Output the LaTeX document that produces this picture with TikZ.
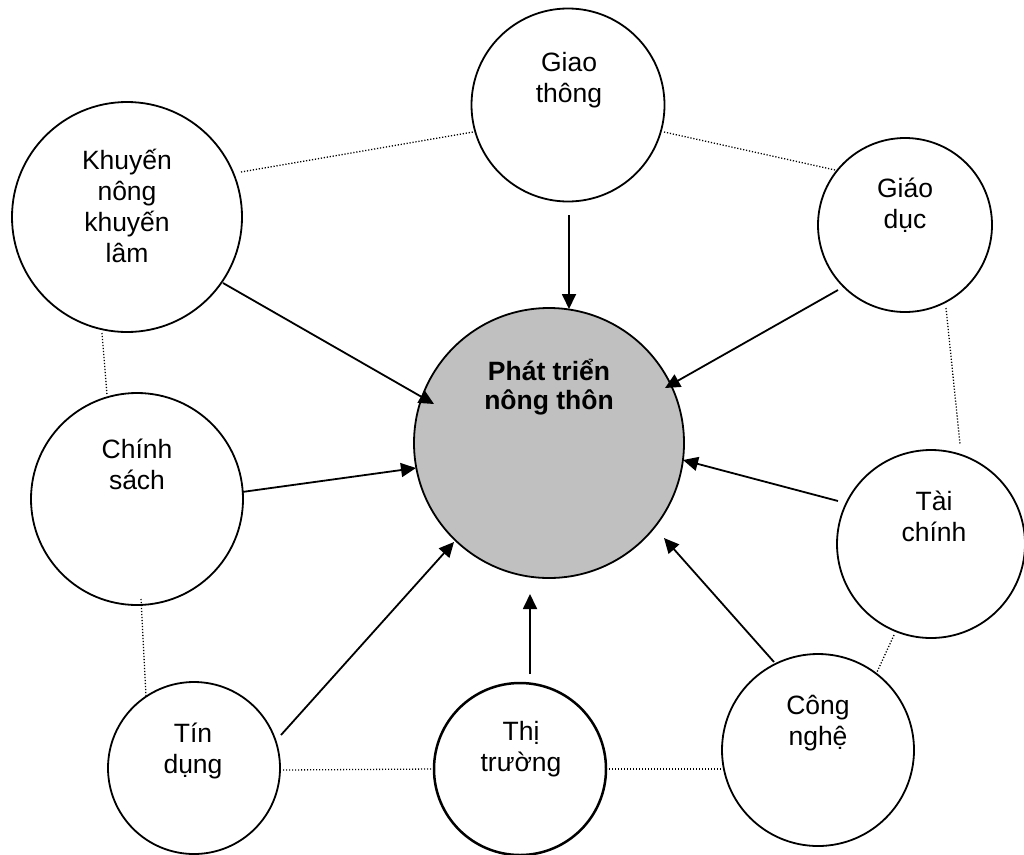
\documentclass[tikz,border=0pt]{standalone}
\usepackage{fontspec}
\setmainfont{Liberation Sans}
\usetikzlibrary{arrows.meta}
\definecolor{hubgray}{RGB}{192,192,192}
\begin{document}
\begin{tikzpicture}[x=1pt,y=-1pt,
  circ/.style={circle,draw,line width=1.8pt,inner sep=0pt,minimum size=#1},
  txt/.style={align=center,font=\fontsize{26.5}{31}\selectfont,inner sep=0pt},
  arr/.style={line width=1.8pt,-{Triangle[length=15pt,width=14pt]}},
  dotln/.style={line width=1.3pt,dash pattern=on 1.2pt off 1.8pt}]
\useasboundingbox (0,0) rectangle (1024,854);
% circles
\node[circ=270pt,fill=hubgray] (hub) at (549,443) {};
\node[circ=193pt] (giao) at (568,105) {};
\node[circ=230pt] (khuyen) at (127,217) {};
\node[circ=174pt] (giaoduc) at (905,225) {};
\node[circ=212pt] (chinh) at (137,499) {};
\node[circ=188pt] (tai) at (931,544) {};
\node[circ=172pt] (tin) at (194,768) {};
\node[circ=172pt,line width=2.5pt] (thi) at (520,769) {};
\node[circ=192pt] (cong) at (818,750) {};
% texts
\node[txt,font=\fontsize{26.5}{29}\selectfont\bfseries] (hubt) at (549,387) {Phát triển\\nông thôn};
\node[txt] (giaot) at (569,80) {Giao\\thông};
\node[txt] (khuyent) at (127,206) {Khuyến\\nông\\khuyến\\lâm};
\node[txt] (giaoduct) at (905,205.5) {Giáo\\dục};
\node[txt] (chinht) at (137,464.5) {Chính\\sách};
\node[txt] (tait) at (934,516.5) {Tài\\chính};
\node[txt] (tint) at (193,750.5) {Tín\\dụng};
\node[txt] (thit) at (521,749) {Thị\\trường};
\node[txt] (congt) at (818,723) {Công\\nghệ};
% arrow end points
\coordinate (a1s) at (569,215); \coordinate (a1e) at (569,309);
\coordinate (a2s) at (223,283); \coordinate (a2e) at (434,404);
\coordinate (a3s) at (838,290); \coordinate (a3e) at (665,388);
\coordinate (a4s) at (242,492); \coordinate (a4e) at (416,468);
\coordinate (a5s) at (281,735); \coordinate (a5e) at (454,542);
\coordinate (a6s) at (530,674); \coordinate (a6e) at (530,594);
\coordinate (a7s) at (774,662); \coordinate (a7e) at (664,538);
\coordinate (a8s) at (838,501); \coordinate (a8e) at (683,460);
\draw[arr] (a1s) -- (a1e);
\draw[arr] (a2s) -- (a2e);
\draw[arr] (a3s) -- (a3e);
\draw[arr] (a4s) -- (a4e);
\draw[arr] (a5s) -- (a5e);
\draw[arr] (a6s) -- (a6e);
\draw[arr] (a7s) -- (a7e);
\draw[arr] (a8s) -- (a8e);
% dotted links
\coordinate (d1s) at (241,172); \coordinate (d1e) at (473,132);
\coordinate (d2s) at (664,132); \coordinate (d2e) at (835,170);
\coordinate (d3s) at (102,333); \coordinate (d3e) at (107,395);
\coordinate (d4s) at (946,308); \coordinate (d4e) at (960,444);
\coordinate (d5s) at (141,599); \coordinate (d5e) at (146,696);
\coordinate (d6s) at (283,770); \coordinate (d6e) at (433,769);
\coordinate (d7s) at (609,769); \coordinate (d7e) at (722,769);
\coordinate (d8s) at (894,635); \coordinate (d8e) at (877,672);
\foreach \i in {1,...,8} {\draw[dotln] (d\i s) -- (d\i e);}
\end{tikzpicture}
\end{document}
